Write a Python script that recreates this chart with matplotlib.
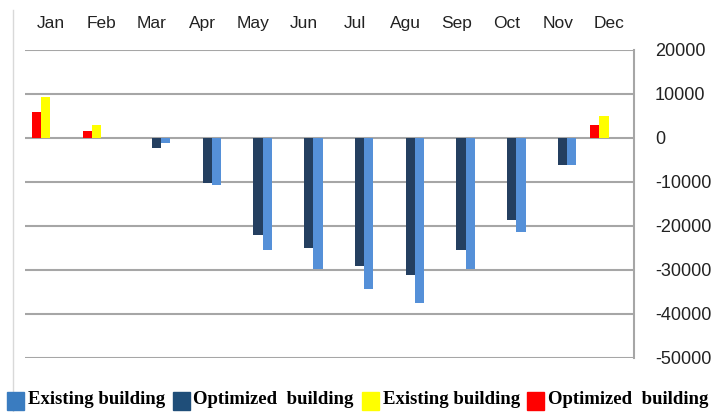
import matplotlib
matplotlib.use("Agg")
import matplotlib.pyplot as plt
import numpy as np
from matplotlib.patches import Rectangle
from matplotlib.lines import Line2D

months = ["Jan", "Feb", "Mar", "Apr", "May", "Jun", "Jul", "Agu", "Sep", "Oct", "Nov", "Dec"]
existing_cooling = [0, 0, -1100, -10700, -25400, -29700, -34300, -37500, -29700, -21300, -6100, 0]
optimized_cooling = [0, 0, -2300, -10250, -22000, -25000, -29000, -31100, -25400, -18700, -6100, 0]
existing_heating = [9300, 3000, 0, 0, 0, 0, 0, 0, 0, 0, 0, 5100]
optimized_heating = [5850, 1600, 0, 0, 0, 0, 0, 0, 0, 0, 0, 3000]
yticks = [20000, 10000, 0, -10000, -20000, -30000, -40000, -50000]
legend_labels = ["Existing building", "Optimized  building", "Existing building", "Optimized  building"]

W, H = 713, 412
fig = plt.figure(figsize=(W / 100, H / 100), dpi=100)
ax = fig.add_axes([25 / W, (H - 358) / H, (634 - 25) / W, (358 - 50) / H])

x = np.arange(len(months))
w = 0.183
c_light = "#5590D8"
c_dark = "#243F60"
c_yellow = "#FFFF00"
c_red = "#FF0000"

ax.bar(x - 1.5 * w, optimized_heating, w, color=c_red, zorder=3)
ax.bar(x - 0.5 * w, existing_heating, w, color=c_yellow, zorder=3)
ax.bar(x + 0.5 * w, optimized_cooling, w, color=c_dark, zorder=3)
ax.bar(x + 1.5 * w, existing_cooling, w, color=c_light, zorder=3)

ax.set_xlim(-0.5, len(months) - 0.5)
ax.set_ylim(-50000, 20000)
ax.set_yticks(yticks)
ax.set_yticklabels([str(v) for v in yticks])
ax.yaxis.tick_right()
ax.tick_params(axis="y", length=0, pad=15, labelsize=13, labelcolor="#222222")
ax.xaxis.tick_top()
ax.set_xticks(x)
ax.set_xticklabels(months)
ax.tick_params(axis="x", length=0, pad=14, labelsize=12.5, labelcolor="#222222")
for lab in ax.get_xticklabels() + ax.get_yticklabels():
    lab.set_fontfamily("Liberation Sans")

ax.grid(axis="y", color="#A6A6A6", linewidth=1.5, zorder=0)
for s in ["left", "bottom"]:
    ax.spines[s].set_visible(False)
ax.spines["top"].set_visible(False)
ax.spines["right"].set_color("#A6A6A6")
ax.spines["right"].set_linewidth(1.5)

# figure frame line on the left
fig.add_artist(Line2D([12.7 / W, 12.7 / W], [0, (H - 10) / H], color="#D9D9D9", linewidth=1.0, zorder=1))

# legend
leg_colors = ["#3A7CC0", "#1F4E79", "#FFFF00", "#FF0000"]
patch_x = [7, 173, 362, 527]
text_x = [28, 193, 383, 548]
for px, tx, col, lab in zip(patch_x, text_x, leg_colors, legend_labels):
    fig.add_artist(Rectangle((px / W, 2 / H), 17 / W, 18 / H, color=col,
                             transform=fig.transFigure, zorder=5))
    fig.text(tx / W, (H - 400) / H, lab, fontsize=13.5, fontweight="bold",
             family="Liberation Serif", va="center", ha="left")

fig.savefig("out.png", dpi=100)
